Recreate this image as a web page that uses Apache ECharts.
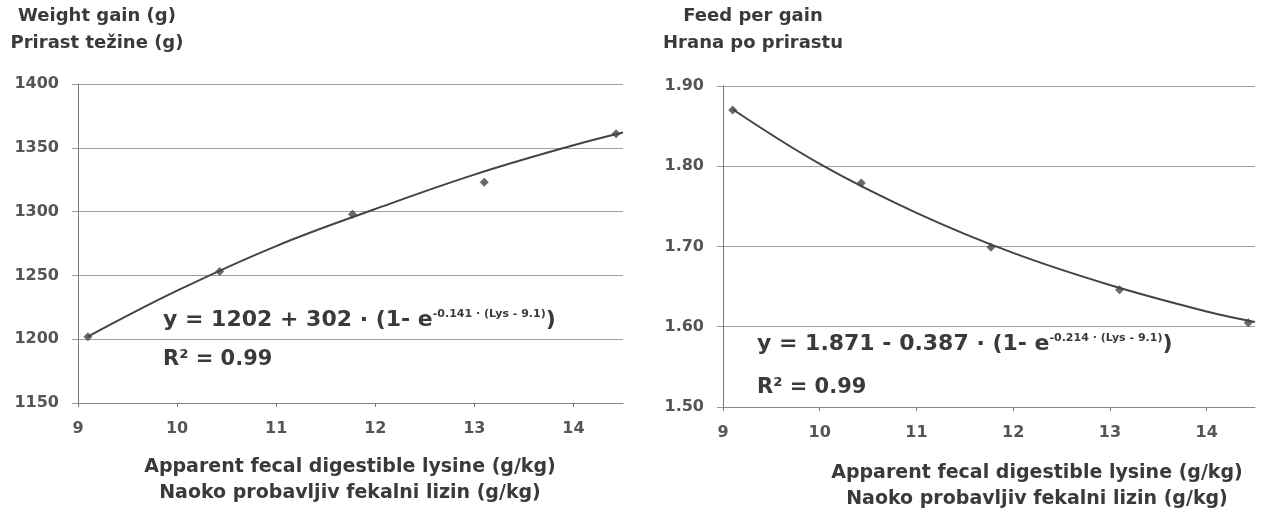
<!DOCTYPE html>
<html>
<head>
<meta charset="utf-8">
<script src="https://cdn.jsdelivr.net/npm/echarts@6/dist/echarts.min.js"></script>
<style>
  html, body { margin: 0; padding: 0; background: #fff; }
  #chart { width: 1266px; height: 513px; }
</style>
</head>
<body>
<div id="chart"></div>
<script>
  // lysine levels (g/kg) of the five diets
  const lysine = [9.1, 10.43, 11.77, 13.1, 14.43]
  const weightGain = [1202, 1253, 1298, 1323, 1361]
  const feedPerGain = [1.870, 1.779, 1.699, 1.646, 1.605]
  // fitted curves
  const curveX = [9.1, 10, 11, 12, 13, 14, 14.5]
  const gainCurve = [1202, 1238, 1273, 1302, 1329, 1352, 1362]
  const feedCurve = [1.871, 1.803, 1.742, 1.692, 1.652, 1.619, 1.606]
  const xTicks = [9, 10, 11, 12, 13, 14]
  const gainTicks = [1150, 1200, 1250, 1300, 1350, 1400]
  const feedTicks = [1.50, 1.60, 1.70, 1.80, 1.90]

  const FONT = '"DejaVu Sans", sans-serif'
  const pair = (xs, ys) => xs.map((x, i) => [x, ys[i]])

  function xAxisOf (gridIndex) {
    return {
      type: 'value', gridIndex: gridIndex, min: 9, max: 14.5, interval: 1,
      axisLine: { lineStyle: { color: '#888', width: 1 } },
      axisTick: { show: true, length: 4, customValues: xTicks, lineStyle: { color: '#777' } },
      axisLabel: { customValues: xTicks, margin: 18, color: '#555', fontFamily: FONT, fontWeight: 'bold', fontSize: 16 },
      splitLine: { show: false }
    }
  }

  function yAxisOf (gridIndex, ticks, step, digits) {
    return {
      type: 'value', gridIndex: gridIndex,
      min: ticks[0], max: ticks[ticks.length - 1], interval: step,
      axisLine: { show: true, lineStyle: { color: '#777', width: 1 } },
      axisTick: { show: true, length: 6, lineStyle: { color: '#999' } },
      axisLabel: {
        margin: 19, color: '#555', fontFamily: FONT, fontWeight: 'bold', fontSize: 16,
        formatter: (v) => v.toFixed(digits)
      },
      splitLine: { show: true, lineStyle: { color: '#a0a0a0', width: 1 } }
    }
  }

  function text (x, y, str, size, align) {
    return {
      type: 'text', x: x, y: y,
      style: { text: str, fill: '#3a3a3a', font: 'bold ' + size + 'px ' + FONT, align: align || 'center', verticalAlign: 'middle' }
    }
  }

  function equation (x, y, main, sup) {
    return {
      type: 'text', x: x, y: y,
      style: {
        text: '{b|' + main + '}{s|' + sup + '}{b|)}',
        verticalAlign: 'middle',
        rich: {
          b: { fontFamily: FONT, fontWeight: 'bold', fontSize: 22, fill: '#3a3a3a', color: '#3a3a3a' },
          s: { fontFamily: FONT, fontWeight: 'bold', fontSize: 11, verticalAlign: 'top', fill: '#3a3a3a', color: '#3a3a3a' }
        }
      }
    }
  }

  let myChart = echarts.init(document.getElementById('chart'))
  let option = {
    backgroundColor: '#fff',
    animation: false,
    grid: [
      { left: 78, right: 643, top: 84, bottom: 110 },
      { left: 723, right: 11, top: 86, bottom: 106 }
    ],
    xAxis: [xAxisOf(0), xAxisOf(1)],
    yAxis: [yAxisOf(0, gainTicks, 50, 0), yAxisOf(1, feedTicks, 0.1, 2)],
    series: [
      {
        type: 'line', xAxisIndex: 0, yAxisIndex: 0, data: pair(curveX, gainCurve),
        smooth: 0.4, showSymbol: false, lineStyle: { color: '#444', width: 2 }, z: 3
      },
      {
        type: 'scatter', xAxisIndex: 0, yAxisIndex: 0, data: pair(lysine, weightGain),
        symbol: 'diamond', symbolSize: 9, itemStyle: { color: '#444' }, z: 4
      },
      {
        type: 'line', xAxisIndex: 1, yAxisIndex: 1, data: pair(curveX, feedCurve),
        smooth: 0.4, showSymbol: false, lineStyle: { color: '#444', width: 2 }, z: 3
      },
      {
        type: 'scatter', xAxisIndex: 1, yAxisIndex: 1, data: pair(lysine, feedPerGain),
        symbol: 'diamond', symbolSize: 9, itemStyle: { color: '#444' }, z: 4
      }
    ],
    graphic: [
      text(97, 16, 'Weight gain (g)', 18),
      text(97, 43, 'Prirast težine (g)', 18),
      text(753, 16, 'Feed per gain', 18),
      text(753, 43, 'Hrana po prirastu', 18),
      text(350, 467, 'Apparent fecal digestible lysine (g/kg)', 19),
      text(350, 493, 'Naoko probavljiv fekalni lizin (g/kg)', 19),
      text(1037, 473, 'Apparent fecal digestible lysine (g/kg)', 19),
      text(1037, 499, 'Naoko probavljiv fekalni lizin (g/kg)', 19),
      equation(163, 320, 'y = 1202 + 302 · (1- e', '-0.141 · (Lys - 9.1)'),
      text(163, 360, 'R² = 0.99', 21, 'left'),
      equation(757, 344, 'y = 1.871 - 0.387 · (1- e', '-0.214 · (Lys - 9.1)'),
      text(757, 388, 'R² = 0.99', 21, 'left')
    ]
  }
  myChart.setOption(option)
</script>
</body>
</html>
